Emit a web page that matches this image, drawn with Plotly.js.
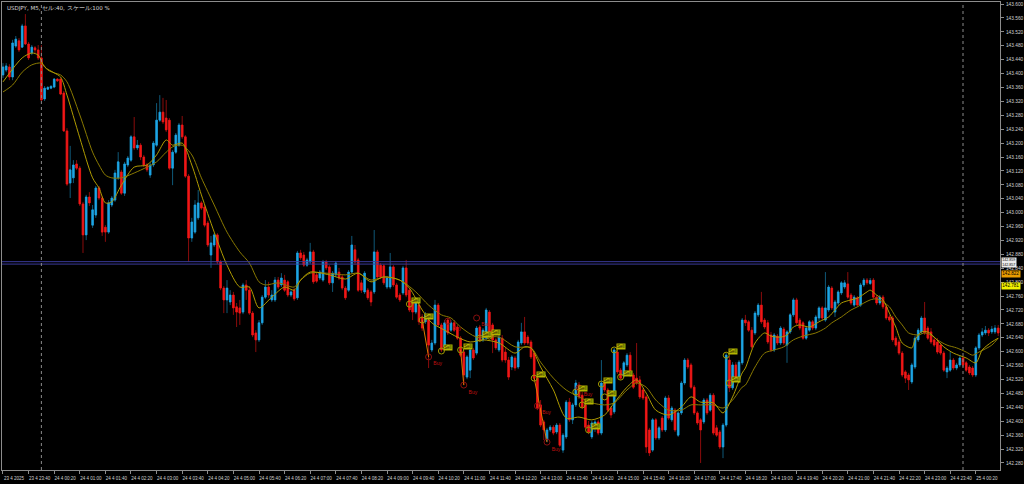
<!DOCTYPE html>
<html><head><meta charset="utf-8">
<script src="https://cdn.plot.ly/plotly-3.0.1.min.js"></script>
<style>html,body{margin:0;padding:0;background:#000;}#chart{width:1024px;height:484px;}</style>
</head><body><div id="chart"></div>
<script>
// ---- candle data (USDJPY M5, bar index 0 = 23 Apr 23:00) ----
const candleOpen = [143.396,143.410,143.419,143.390,143.479,143.494,143.476,143.537,143.485,143.459,143.474,143.468,143.445,143.327,143.355,143.358,143.361,143.384,143.384,143.344,143.235,143.085,143.100,143.140,143.128,143.025,142.936,143.045,142.964,142.993,143.071,143.042,142.958,142.944,143.022,143.036,143.100,143.117,143.056,143.137,143.151,143.218,143.186,143.194,143.160,143.137,143.108,143.137,143.194,143.266,143.289,143.272,143.266,143.128,143.174,143.194,143.252,143.218,143.105,142.927,142.944,142.985,143.028,143.016,142.970,142.878,142.907,142.936,142.858,142.783,142.749,142.743,142.763,142.729,142.726,142.714,142.792,142.777,142.711,142.654,142.634,142.683,142.757,142.786,142.749,142.749,142.806,142.792,142.806,142.801,142.763,142.777,142.755,142.884,142.878,142.849,142.858,142.887,142.821,142.812,142.806,142.858,142.844,142.798,142.821,142.829,142.815,142.783,142.777,142.829,142.893,142.864,142.798,142.772,142.777,142.772,142.772,142.887,142.849,142.847,142.786,142.786,142.844,142.792,142.763,142.769,142.841,142.777,142.749,142.714,142.734,142.700,142.686,142.691,142.605,142.625,142.734,142.677,142.614,142.691,142.662,142.683,142.671,142.639,142.599,142.527,142.547,142.605,142.596,142.671,142.634,142.639,142.714,142.677,142.634,142.605,142.639,142.599,142.576,142.556,142.582,142.556,142.625,142.657,142.642,142.628,142.596,142.524,142.447,142.398,142.346,142.375,142.383,142.369,142.389,142.317,142.355,142.455,142.404,142.447,142.504,142.475,142.447,142.389,142.355,142.381,142.398,142.366,142.510,142.490,142.438,142.427,142.599,142.547,142.530,142.562,142.590,142.533,142.524,142.519,142.490,142.470,142.375,142.317,142.404,142.352,142.409,142.375,142.467,142.404,142.432,142.360,142.424,142.510,142.576,142.562,142.498,142.424,142.404,142.398,142.461,142.432,142.475,142.381,142.369,142.326,142.389,142.576,142.496,142.562,142.519,142.568,142.691,142.686,142.662,142.654,142.706,142.734,142.691,142.683,142.648,142.605,142.645,142.625,142.665,142.619,142.657,142.706,142.749,142.691,142.683,142.639,142.662,142.686,142.668,142.697,142.726,142.691,142.720,142.783,142.714,142.740,142.769,142.786,142.795,142.763,142.734,142.755,142.734,142.792,142.806,142.796,142.806,142.757,142.740,142.757,142.729,142.700,142.697,142.639,142.628,142.596,142.542,142.533,142.513,142.556,142.634,142.657,142.697,142.668,142.657,142.634,142.628,142.619,142.596,142.542,142.547,142.576,142.553,142.562,142.582,142.568,142.556,142.553,142.533,142.611,142.648,142.654,142.662,142.657,142.657,142.668];
const candleHigh = [143.430,143.430,143.427,143.497,143.508,143.502,143.543,143.571,143.491,143.482,143.479,143.482,143.482,143.364,143.364,143.367,143.387,143.387,143.387,143.350,143.243,143.192,143.151,143.151,143.134,143.031,143.051,143.059,143.022,143.077,143.077,143.048,142.964,143.036,143.048,143.123,143.174,143.123,143.146,143.163,143.223,143.275,143.209,143.200,143.166,143.143,143.143,143.206,143.315,143.338,143.330,143.324,143.272,143.180,143.229,143.258,143.278,143.223,143.111,142.985,143.036,143.065,143.033,143.022,142.976,142.933,142.941,142.941,142.864,142.789,142.806,142.777,142.772,142.740,142.749,142.798,142.806,142.789,142.717,142.662,142.691,142.763,142.806,142.801,142.777,142.815,142.815,142.826,142.821,142.806,142.777,142.783,142.890,142.893,142.887,142.870,142.913,142.893,142.829,142.835,142.864,142.864,142.849,142.832,142.861,142.841,142.821,142.789,142.835,142.933,142.907,142.870,142.806,142.832,142.783,142.777,142.950,142.893,142.855,142.852,142.818,142.884,142.849,142.798,142.769,142.847,142.864,142.783,142.755,142.755,142.740,142.708,142.714,142.697,142.634,142.749,142.740,142.683,142.691,142.697,142.691,142.691,142.677,142.645,142.605,142.590,142.611,142.611,142.674,142.677,142.668,142.726,142.720,142.683,142.639,142.648,142.648,142.611,142.585,142.590,142.588,142.634,142.683,142.700,142.648,142.634,142.602,142.530,142.461,142.404,142.381,142.389,142.389,142.395,142.395,142.366,142.461,142.467,142.453,142.519,142.513,142.484,142.453,142.401,142.401,142.404,142.404,142.576,142.524,142.496,142.444,142.611,142.605,142.553,142.573,142.596,142.599,142.539,142.625,142.530,142.496,142.475,142.381,142.409,142.409,142.386,142.415,142.473,142.475,142.444,142.438,142.429,142.516,142.582,142.582,142.568,142.504,142.429,142.409,142.467,142.467,142.481,142.481,142.389,142.375,142.395,142.596,142.588,142.570,142.570,142.576,142.697,142.706,142.691,142.671,142.717,142.740,142.772,142.697,142.691,142.657,142.654,142.651,142.674,142.671,142.662,142.711,142.755,142.755,142.697,142.688,142.674,142.691,142.691,142.706,142.731,142.731,142.829,142.792,142.789,142.749,142.777,142.803,142.806,142.829,142.769,142.763,142.760,142.798,142.812,142.812,142.812,142.812,142.763,142.763,142.763,142.734,142.706,142.703,142.645,142.634,142.602,142.547,142.539,142.568,142.645,142.668,142.703,142.743,142.674,142.668,142.639,142.639,142.625,142.602,142.559,142.599,142.582,142.568,142.590,142.588,142.573,142.562,142.559,142.616,142.654,142.668,142.674,142.668,142.674,142.677,142.677];
const candleLow = [143.387,143.404,143.381,143.381,143.474,143.462,143.474,143.482,143.439,143.453,143.459,143.439,143.321,143.321,143.353,143.355,143.358,143.376,143.338,143.232,143.077,143.042,143.085,143.123,143.019,142.884,142.921,143.019,142.956,142.985,143.036,142.933,142.916,142.939,143.016,143.031,143.094,143.051,143.048,143.131,143.146,143.180,143.180,143.151,143.131,143.117,143.100,143.131,143.189,143.261,143.255,143.232,143.123,143.079,143.169,143.189,143.212,143.100,142.858,142.916,142.939,142.979,143.008,142.958,142.901,142.841,142.901,142.852,142.777,142.711,142.711,142.734,142.706,142.671,142.677,142.708,142.749,142.706,142.642,142.599,142.628,142.677,142.752,142.755,142.743,142.743,142.780,142.786,142.772,142.757,142.757,142.746,142.749,142.864,142.844,142.844,142.852,142.795,142.798,142.806,142.801,142.835,142.792,142.772,142.815,142.806,142.777,142.749,142.772,142.824,142.849,142.772,142.769,142.766,142.749,142.731,142.766,142.809,142.809,142.792,142.780,142.780,142.786,142.752,142.743,142.763,142.757,142.714,142.691,142.708,142.677,142.660,142.680,142.553,142.599,142.619,142.671,142.599,142.608,142.648,142.657,142.657,142.634,142.585,142.504,142.521,142.524,142.576,142.590,142.628,142.628,142.634,142.651,142.596,142.605,142.599,142.570,142.568,142.519,142.547,142.545,142.550,142.619,142.619,142.619,142.579,142.519,142.432,142.383,142.346,142.340,142.369,142.360,142.363,142.326,142.309,142.349,142.398,142.392,142.441,142.464,142.435,142.378,142.363,142.349,142.369,142.360,142.360,142.484,142.427,142.409,142.421,142.536,142.519,142.524,142.556,142.527,142.493,142.504,142.464,142.461,142.309,142.300,142.312,142.346,142.346,142.369,142.369,142.404,142.398,142.369,142.355,142.418,142.504,142.550,142.493,142.418,142.389,142.280,142.392,142.418,142.427,142.360,142.355,142.320,142.294,142.383,142.484,142.490,142.513,142.510,142.562,142.674,142.657,142.608,142.648,142.700,142.680,142.665,142.622,142.599,142.599,142.619,142.619,142.619,142.568,142.651,142.700,142.677,142.662,142.634,142.634,142.657,142.662,142.662,142.688,142.691,142.686,142.714,142.720,142.700,142.734,142.763,142.780,142.752,142.734,142.729,142.729,142.729,142.786,142.792,142.792,142.752,142.734,142.734,142.723,142.691,142.686,142.628,142.614,142.590,142.527,142.510,142.490,142.507,142.550,142.628,142.651,142.648,142.634,142.622,142.614,142.593,142.590,142.542,142.524,142.542,142.547,142.547,142.556,142.556,142.542,142.533,142.527,142.527,142.605,142.642,142.648,142.645,142.651,142.651,142.645];
const candleClose = [143.419,143.422,143.390,143.488,143.499,143.468,143.537,143.485,143.445,143.476,143.468,143.445,143.324,143.358,143.360,143.363,143.384,143.379,143.341,143.235,143.082,143.123,143.137,143.128,143.025,142.936,143.045,143.028,143.008,143.071,143.042,142.944,142.944,143.028,143.042,143.114,143.146,143.056,143.140,143.157,143.218,143.186,143.194,143.160,143.137,143.123,143.137,143.200,143.266,143.289,143.261,143.238,143.128,143.174,143.223,143.252,143.218,143.105,142.927,142.973,143.022,143.028,143.013,142.964,142.907,142.913,142.936,142.858,142.783,142.749,142.783,142.763,142.726,142.714,142.711,142.792,142.777,142.711,142.648,142.634,142.683,142.757,142.786,142.763,142.763,142.806,142.786,142.812,142.777,142.763,142.772,142.752,142.884,142.870,142.849,142.864,142.887,142.801,142.803,142.829,142.858,142.841,142.798,142.826,142.855,142.812,142.783,142.755,142.829,142.907,142.858,142.777,142.777,142.826,142.755,142.743,142.887,142.815,142.815,142.798,142.812,142.844,142.792,142.757,142.749,142.841,142.763,142.720,142.714,142.749,142.686,142.668,142.706,142.619,142.625,142.734,142.677,142.605,142.683,142.654,142.683,142.662,142.639,142.590,142.533,142.585,142.605,142.582,142.668,142.634,142.662,142.720,142.657,142.634,142.611,142.642,142.576,142.576,142.527,142.585,142.553,142.628,142.657,142.625,142.625,142.585,142.524,142.438,142.389,142.375,142.375,142.383,142.366,142.389,142.331,142.360,142.455,142.404,142.447,142.510,142.470,142.441,142.383,142.369,142.395,142.398,142.366,142.510,142.490,142.432,142.418,142.605,142.542,142.524,142.568,142.590,142.533,142.498,142.510,142.470,142.467,142.326,142.309,142.404,142.352,142.381,142.375,142.467,142.409,142.438,142.375,142.424,142.510,142.576,142.556,142.498,142.424,142.395,142.375,142.461,142.424,142.475,142.366,142.360,142.326,142.389,142.590,142.496,142.562,142.519,142.570,142.691,142.683,142.662,142.614,142.711,142.734,142.686,142.671,142.628,142.605,142.648,142.625,142.668,142.625,142.657,142.706,142.749,142.683,142.668,142.639,142.668,142.686,142.668,142.700,142.726,142.697,142.726,142.786,142.726,142.743,142.772,142.798,142.798,142.757,142.740,142.757,142.734,142.792,142.806,142.798,142.805,142.757,142.740,142.757,142.729,142.697,142.691,142.634,142.619,142.596,142.533,142.524,142.519,142.562,142.639,142.662,142.697,142.654,142.639,142.628,142.619,142.599,142.596,142.547,142.553,142.576,142.553,142.562,142.582,142.562,142.547,142.539,142.533,142.611,142.648,142.657,142.662,142.654,142.665,142.668,142.654];

// ---- moving averages (bar index, price) ----
const maFastIdx = [0,6,9,11,13,16,18,20,24,28,30,32,34,37,41,45,48,51,53,56,59,62,66,70,74,77,80,84,88,91,93,96,102,107,111,115,119,124,127,131,134,138,142,146,150,155,160,163,165,168,172,176,180,184,188,191,195,198,201,204,208,212,215,218,222,225,228,231,232,235,238,240,243,245,247,249,252,255,258,260,262,265,267,270,271,273,275,277,279,281,284,285,287,289,291,294,297,301,304,306,309,311];
const maFast = [143.376,143.445,143.459,143.453,143.419,143.402,143.390,143.338,143.215,143.100,143.071,143.028,143.031,143.079,143.131,143.137,143.166,143.209,143.194,143.200,143.137,143.051,142.944,142.849,142.786,142.786,142.726,142.757,142.786,142.777,142.806,142.829,142.821,142.809,142.826,142.801,142.815,142.806,142.783,142.720,142.683,142.662,142.642,142.628,142.634,142.625,142.596,142.614,142.611,142.556,142.490,142.409,142.412,142.404,142.418,142.453,142.498,142.519,142.481,142.432,142.418,142.441,142.470,142.455,142.453,142.424,142.470,142.539,142.553,142.625,142.654,142.645,142.642,142.648,142.671,142.677,142.671,142.686,142.700,142.720,142.740,142.749,142.754,142.772,142.777,142.763,142.749,142.711,142.671,142.625,142.611,142.634,142.657,142.657,142.642,142.614,142.596,142.582,142.568,142.605,142.628,142.639];
const maSlowIdx = [0,3,6,9,12,14,16,18,20,24,28,30,32,34,37,41,45,48,51,53,56,59,62,66,70,74,77,80,82,86,91,93,96,101,107,111,115,119,122,125,129,133,137,140,143,148,155,160,165,168,172,176,180,184,188,191,195,198,201,204,208,212,215,218,222,225,228,231,232,235,238,241,244,247,250,254,257,259,262,265,267,269,271,273,275,277,279,281,283,286,288,290,292,295,298,301,303,305,309,311];
const maSlow = [143.347,143.367,143.404,143.425,143.430,143.410,143.402,143.396,143.376,143.281,143.174,143.137,143.108,143.100,143.100,143.114,143.131,143.146,143.174,143.189,143.194,143.166,143.100,143.022,142.944,142.887,142.855,142.801,142.792,142.798,142.786,142.806,142.826,142.826,142.821,142.826,142.806,142.815,142.812,142.801,142.772,142.734,142.706,142.697,142.671,142.642,142.642,142.614,142.611,142.570,142.524,142.490,142.470,142.453,142.447,142.453,142.490,142.510,142.498,142.461,142.432,142.432,142.447,142.447,142.447,142.438,142.461,142.498,142.504,142.556,142.596,142.605,142.614,142.634,142.645,142.654,142.668,142.683,142.700,142.720,142.729,142.740,142.749,142.752,142.743,142.729,142.700,142.677,142.654,142.648,142.654,142.648,142.634,142.619,142.611,142.599,142.590,142.599,142.619,142.639];

// ---- signal marks ----
const sellIdx = [127,131,137,143,149,152,166,179,181,183,187,188,191,193,226,227];
const sellPrice = [142.737,142.691,142.602,142.605,142.639,142.645,142.524,142.484,142.447,142.375,142.507,142.470,142.605,142.527,142.590,142.510];
const buyIdx = [133,139,144,148,167,170,180];
const buyPrice = [142.585,142.688,142.504,142.697,142.444,142.340,142.496];
const zigIdx = [131,133,null,143,144,null,166,170];
const zigPrice = [142.691,142.585,null,142.605,142.504,null,142.524,142.340];

// ---- reference levels / labels ----
const levelLines = [142.859, 142.852];
const daySeparators = [12, 300];
const priceTags = [
  {price:142.858, text:'142.859<br>142.857', bg:'#ececec', fg:'#000', size:3.6},
  {price:142.824, text:'142.822', bg:'#e89a00', fg:'#000', size:4.6},
  {price:142.790, text:'142.781', bg:'#f0f000', fg:'#000', size:4.6}
];
const xTickIdx = [0,8,16,24,32,40,48,56,64,72,80,88,96,104,112,120,128,136,144,152,160,168,176,184,192,200,208,216,224,232,240,248,256,264,272,280,288,296,304];
const xTickText = ['23 4 2025','23 4 23:40','24 4 00:20','24 4 01:00','24 4 01:40','24 4 02:20','24 4 03:00','24 4 03:40','24 4 04:20','24 4 05:00','24 4 05:40','24 4 06:20','24 4 07:00','24 4 07:40','24 4 08:20','24 4 09:00','24 4 09:40','24 4 10:20','24 4 11:00','24 4 11:40','24 4 12:20','24 4 13:00','24 4 13:40','24 4 14:20','24 4 15:00','24 4 15:40','24 4 16:20','24 4 17:00','24 4 17:40','24 4 18:20','24 4 19:00','24 4 19:40','24 4 20:20','24 4 21:00','24 4 21:40','24 4 22:20','24 4 23:00','24 4 23:40','25 4 00:20'];
const chartTitle = 'USDJPY, M5, セル:40, スケール:100 %';

const idx = candleOpen.map((_, i) => i);
const bodyHigh = candleOpen.map((o, i) => Math.max(o, candleClose[i]));
const bodyLow = candleOpen.map((o, i) => Math.min(o, candleClose[i]));

const BULL = '#1ea6e6', BEAR = '#f21818';
const FONT = 'Liberation Sans, Arial, sans-serif';
const traces = [
  {type:'candlestick', x:idx, open:candleOpen, high:candleHigh, low:candleLow, close:candleClose,
   increasing:{line:{color:'#0f5878', width:1}, fillcolor:'#0f5878'},
   decreasing:{line:{color:'#8a0c0c', width:1}, fillcolor:'#8a0c0c'},
   whiskerwidth:0, hoverinfo:'skip', showlegend:false},
  {type:'candlestick', x:idx, open:candleOpen, high:bodyHigh, low:bodyLow, close:candleClose,
   increasing:{line:{color:BULL, width:0.6}, fillcolor:BULL},
   decreasing:{line:{color:BEAR, width:0.6}, fillcolor:BEAR},
   whiskerwidth:0, hoverinfo:'skip', showlegend:false},
  {type:'scatter', mode:'lines', x:maSlowIdx, y:maSlow, line:{color:'#8a7a00', width:1, shape:'spline', smoothing:0.8}, hoverinfo:'skip', showlegend:false},
  {type:'scatter', mode:'lines', x:maFastIdx, y:maFast, line:{color:'#b09c00', width:1, shape:'spline', smoothing:0.8}, hoverinfo:'skip', showlegend:false},
  {type:'scatter', mode:'lines', x:zigIdx, y:zigPrice, connectgaps:false, line:{color:'#e07a00', width:1}, hoverinfo:'skip', showlegend:false},
  {type:'scatter', mode:'markers', x:sellIdx, y:sellPrice, marker:{symbol:'circle-open', size:6, color:'#a09a00', line:{width:1}}, hoverinfo:'skip', showlegend:false},
  {type:'scatter', mode:'markers+text', x:buyIdx, y:buyPrice, marker:{symbol:'circle-open', size:6, color:'#8a1010', line:{width:1}},
   text:buyIdx.map(() => 'Buy'), textposition:'bottom right', textfont:{family:FONT, size:5, color:'#c01010'}, hoverinfo:'skip', showlegend:false}
];

const shapes = [];
levelLines.forEach(p => shapes.push({type:'line', xref:'paper', x0:0, x1:1, yref:'y', y0:p, y1:p, line:{color:'#3a3a9a', width:1}}));
daySeparators.forEach(i => shapes.push({type:'line', xref:'x', x0:i, x1:i, yref:'paper', y0:0, y1:1, line:{color:'#8a8a8a', width:1, dash:'dot'}}));

const annotations = [
  {xref:'paper', yref:'paper', x:0.003, y:0.997, xanchor:'left', yanchor:'top', text:chartTitle, showarrow:false,
   font:{family:'DejaVu Sans', size:5.5, color:'#d8d8d8'}}
];
sellIdx.forEach((i, k) => annotations.push({xref:'x', yref:'y', x:i, y:sellPrice[k], xanchor:'left', yanchor:'bottom', xshift:2, yshift:0,
  text:'Sell', showarrow:false, bgcolor:'#b4b400', borderpad:0, font:{family:FONT, size:4.5, color:'#1a1a00'}}));
priceTags.forEach(t => annotations.push({xref:'paper', yref:'y', x:1.001, y:t.price, xanchor:'left', yanchor:'middle', text:t.text, showarrow:false,
  bgcolor:t.bg, borderpad:0.3, font:{family:FONT, size:t.size, color:t.fg}}));

const layout = {
  width:1024, height:484,
  margin:{l:2, r:24, t:2, b:14, pad:0},
  paper_bgcolor:'#000', plot_bgcolor:'#000',
  showlegend:false, hovermode:false,
  xaxis:{range:[-0.31, 311.56], rangeslider:{visible:false}, showgrid:false, zeroline:false,
    showline:true, mirror:true, linecolor:'#8c8c8c', linewidth:1,
    tickmode:'array', tickvals:xTickIdx, ticktext:xTickText, tickangle:0, ticks:'outside', ticklen:3, tickcolor:'#8c8c8c',
    ticklabelshift:11, ticklabelstandoff:1, tickfont:{family:FONT, size:4.5, color:'#d0d0d0'}, automargin:false},
  yaxis:{range:[142.2598, 143.6058], side:'right', showgrid:false, zeroline:false,
    showline:true, mirror:true, linecolor:'#8c8c8c', linewidth:1,
    tick0:142.28, dtick:0.04, tickformat:'.3f', ticks:'outside', ticklen:3, tickcolor:'#8c8c8c',
    ticklabelstandoff:1, tickfont:{family:FONT, size:4.8, color:'#d0d0d0'}, automargin:false},
  shapes:shapes, annotations:annotations
};

Plotly.newPlot('chart', traces, layout, {staticPlot:true, displayModeBar:false});
</script></body></html>
